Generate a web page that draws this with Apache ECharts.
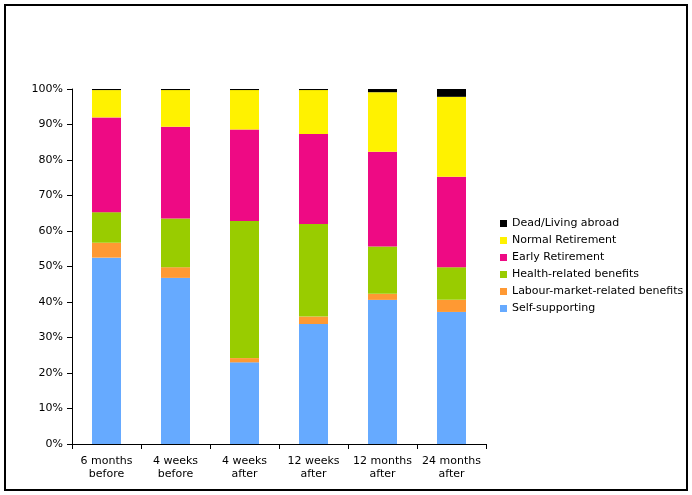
<!DOCTYPE html>
<html>
<head>
<meta charset="utf-8">
<script src="https://cdn.jsdelivr.net/npm/echarts@6/dist/echarts.min.js"></script>
<style>
html,body{margin:0;padding:0;background:#fff;}
#chart{width:692px;height:495px;}
</style>
</head>
<body>
<div id="chart"></div>
<script>
const categories = ['6 months\nbefore','4 weeks\nbefore','4 weeks\nafter','12 weeks\nafter','12 months\nafter','24 months\nafter'];
const selfSupporting = [52.5, 46.8, 23.0, 33.8, 40.6, 37.2];
const labourMarket   = [4.2, 3.0, 1.2, 2.1, 1.7, 3.4];
const healthRelated  = [8.6, 13.7, 38.6, 26.1, 13.3, 9.2];
const earlyRetirement = [26.7, 25.9, 25.8, 25.3, 26.7, 25.5];
const normalRetirement = [7.7, 10.3, 11.1, 12.4, 16.8, 22.5];
const deadAbroad = [0.3, 0.3, 0.3, 0.3, 0.9, 2.2];
const yTicks = [0,10,20,30,40,50,60,70,80,90,100];

const seriesDefs = [
  {name:'Self-supporting', data:selfSupporting, color:'#66aaff'},
  {name:'Labour-market-related benefits', data:labourMarket, color:'#ff9933'},
  {name:'Health-related benefits', data:healthRelated, color:'#99cc00'},
  {name:'Early Retirement', data:earlyRetirement, color:'#ee0a84'},
  {name:'Normal Retirement', data:normalRetirement, color:'#fff200'},
  {name:'Dead/Living abroad', data:deadAbroad, color:'#000000'}
];

const font = 'DejaVu Sans, Verdana, sans-serif';
const chart = echarts.init(document.getElementById('chart'), null, {renderer:'canvas'});
chart.setOption({
  animation:false,
  backgroundColor:'#ffffff',
  graphic:[{type:'rect', shape:{x:5,y:5,width:682,height:485}, style:{fill:'none', stroke:'#000', lineWidth:2}, silent:true}],
  grid:{left:72, right:206, top:89, bottom:51, containLabel:false},
  legend:{
    orient:'vertical', left:495, top:212,
    itemWidth:7, itemHeight:7, itemGap:4, icon:'rect',
    textStyle:{fontFamily:font, fontSize:11, color:'#000', lineHeight:13},
    data:seriesDefs.map(s=>s.name).reverse()
  },
  xAxis:{
    type:'category', data:categories,
    axisLine:{lineStyle:{color:'#000', width:1}},
    axisTick:{show:true, alignWithLabel:false, length:5, lineStyle:{color:'#000'}},
    axisLabel:{fontFamily:font, fontSize:11, color:'#000', lineHeight:13, margin:11, interval:0}
  },
  yAxis:{
    type:'value', min:0, max:100, interval:10,
    axisLine:{show:true, lineStyle:{color:'#000', width:1}},
    axisTick:{show:true, length:5, lineStyle:{color:'#000'}},
    splitLine:{show:false},
    axisLabel:{fontFamily:font, fontSize:11, color:'#000', margin:9, formatter:v=>v+'%'}
  },
  series:seriesDefs.map(s=>({
    name:s.name, type:'bar', stack:'total', data:s.data, barWidth:29,
    itemStyle:{color:s.color}
  }))
});
</script>
</body>
</html>
